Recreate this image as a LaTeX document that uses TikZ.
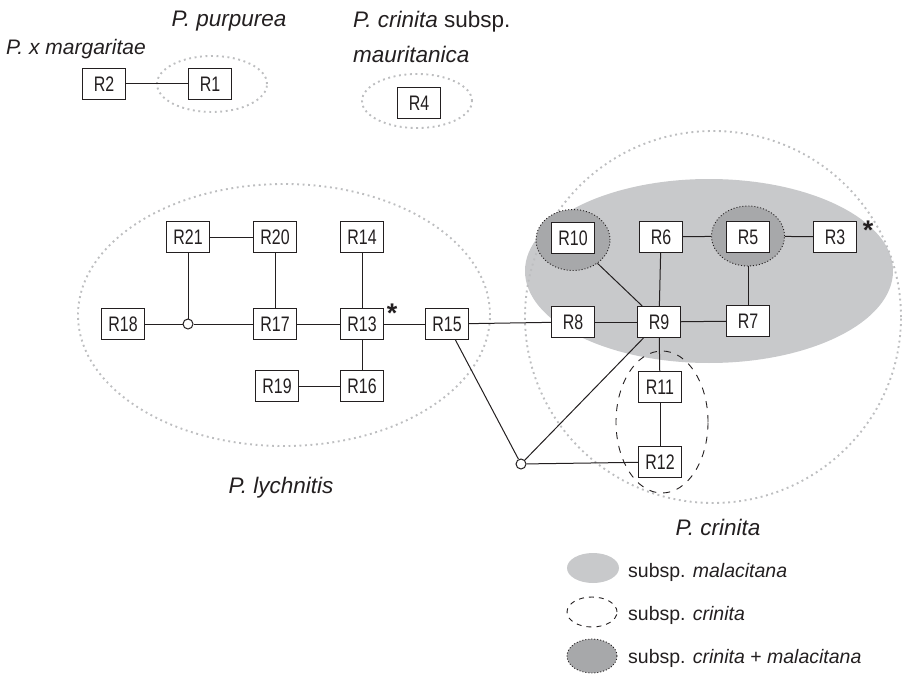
\documentclass[tikz,border=0pt]{standalone}
\usepackage{fontspec}
\setmainfont{Liberation Sans}
\newfontfamily\hapfont{Liberation Sans}[FakeStretch=0.76]
\usepackage{tikz}
\usetikzlibrary{shapes.geometric}
\definecolor{malgrey}{HTML}{C8C9CB}
\definecolor{bothgrey}{HTML}{A7A8AA}
\definecolor{dotgrey}{HTML}{BDBEC0}
\definecolor{ink}{HTML}{231F20}
\tikzset{
	hap/.style={draw=ink, line width=1.1pt, fill=white, minimum width=43pt, minimum height=31pt, inner sep=0pt, font=\hapfont\fontsize{21}{24}\selectfont, text=ink},
	link/.style={draw=ink, line width=1pt},
	miss/.style={circle, draw=ink, line width=1pt, fill=white, minimum size=10pt, inner sep=0pt},
	taxon/.style={ellipse, draw=dotgrey, line width=1.9pt, dash pattern=on 1.9pt off 3.6pt, inner sep=0pt},
	malac/.style={ellipse, fill=malgrey, inner sep=0pt},
	both/.style={ellipse, fill=bothgrey, draw=ink, line width=0.9pt, dash pattern=on 1pt off 2pt, inner sep=0pt},
	crin/.style={ellipse, draw=ink, line width=0.9pt, dash pattern=on 7pt off 7pt, inner sep=0pt},
	species/.style={font=\fontsize{22.5}{26}\selectfont\itshape, text=ink, inner sep=0pt, anchor=base},
	legtext/.style={font=\fontsize{19.5}{22}\selectfont, text=ink, inner sep=0pt, anchor=base west},
	asterisk/.style={font=\bfseries\fontsize{27}{30}\selectfont, text=ink, inner sep=0pt, anchor=base},
}

\begin{document}
\begin{tikzpicture}[x=1pt, y=-1pt]
	\useasboundingbox (0,0) rectangle (902,674);

	\node [taxon, minimum width=412pt, minimum height=262pt] (lych) at (284,315) {};
	\node [malac, minimum width=368pt, minimum height=184pt] (malacitana) at (709,271) {};
	\node [taxon, minimum width=376pt, minimum height=372pt] (crinita) at (713,317) {};
	\node [crin, minimum width=92pt, minimum height=142pt] (crinR11) at (662,422) {};
	\node [both, minimum width=74pt, minimum height=61pt] (bothR10) at (573,240) {};
	\node [both, minimum width=73pt, minimum height=60pt] (bothR5) at (748,236) {};
	\node [taxon, minimum width=110pt, minimum height=56pt] (purp) at (212,84) {};
	\node [taxon, minimum width=110pt, minimum height=54pt] (maur) at (417,101) {};

	\node [species, font=\fontsize{21}{26}\selectfont\itshape] (margaritae) at (76,55) {P. x margaritae};
	\node [species] (purpurea) at (229,27) {P. purpurea};
	\node [species, anchor=base west] (crinitaA) at (353,28) {P. crinita \upshape subsp.};
	\node [species, anchor=base west] (crinitaB) at (353,63) {mauritanica};
	\node [species] (lychnitis) at (281,493) {P. lychnitis};
	\node [species] (crinitalab) at (718,535) {P. crinita};

	\node [hap] (R2) at (104,84) {R2};
	\node [hap] (R1) at (210,84) {R1};
	\node [hap] (R4) at (419,103) {R4};
	\draw [link] (R2) -- (R1);

	\node [hap]  (R21) at (188,237) {R21};
	\node [hap]  (R20) at (275,237) {R20};
	\node [hap]  (R14) at (362,237) {R14};
	\node [hap]  (R18) at (123,324) {R18};
	\node [miss] (c1)  at (188,324) {};
	\node [hap]  (R17) at (275,324) {R17};
	\node [hap]  (R13) at (362,324) {R13};
	\node [hap]  (R15) at (447,324) {R15};
	\node [hap]  (R19) at (277,386) {R19};
	\node [hap]  (R16) at (362,386) {R16};
	\node [asterisk] (ast13) at (392,322) {*};
	\draw [link] (R21) -- (R20);
	\draw [link] (R21) -- (c1);
	\draw [link] (R18) -- (c1);
	\draw [link] (c1) -- (R17);
	\draw [link] (R20) -- (R17);
	\draw [link] (R17) -- (R13);
	\draw [link] (R14) -- (R13);
	\draw [link] (R13) -- (R16);
	\draw [link] (R19) -- (R16);
	\draw [link] (R13) -- (R15);

	\node [hap]  (R10) at (573,238) {R10};
	\node [hap]  (R6)  at (661,237) {R6};
	\node [hap]  (R5)  at (748,237) {R5};
	\node [hap]  (R3)  at (835,237) {R3};
	\node [hap]  (R8)  at (573,322) {R8};
	\node [hap]  (R9)  at (659,322) {R9};
	\node [hap]  (R7)  at (748,321) {R7};
	\node [hap]  (R11) at (660,387) {R11};
	\node [hap]  (R12) at (660,462) {R12};
	\node [miss] (c2)  at (521,464) {};
	\node [asterisk] (ast3) at (868,239) {*};
	\draw [link] (R15) -- (R8);
	\draw [link] (R8) -- (R9);
	\draw [link] (R9) -- (R7);
	\draw [link] (R6) -- (R9);
	\draw [link] (bothR10) -- (R9);
	\draw [link] (R6) -- (bothR5);
	\draw [link] (bothR5) -- (R3);
	\draw [link] (bothR5) -- (R7);
	\draw [link] (R9) -- (R11);
	\draw [link] (R11) -- (R12);
	\draw [link] (R15) -- (c2);
	\draw [link] (c2) -- (R9);
	\draw [link] (c2) -- (R12);

	\node [malac, minimum width=52pt, minimum height=30pt] (keymal) at (593,568) {};
	\node [crin, dash pattern=on 5pt off 5pt, minimum width=50pt, minimum height=30pt] (keycrin) at (592,612) {};
	\node [both, minimum width=50pt, minimum height=34pt] (keyboth) at (592,656) {};
	\node [legtext] (txtmal)  at (628,577) {subsp. \textit{malacitana}};
	\node [legtext] (txtcrin) at (628,620) {subsp. \textit{crinita}};
	\node [legtext] (txtboth) at (628,663) {subsp. \textit{crinita} + \textit{malacitana}};
\end{tikzpicture}
\end{document}
